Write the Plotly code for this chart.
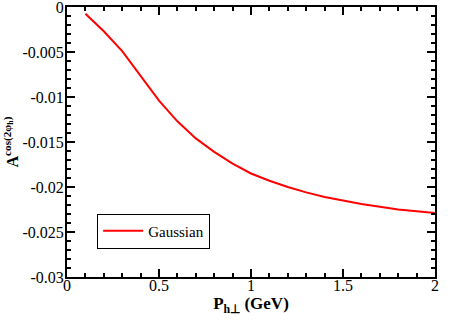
import plotly.graph_objects as go

# curve
p_perp = [0.1, 0.2, 0.3, 0.4, 0.5, 0.6, 0.7, 0.8, 0.9, 1.0,
          1.1, 1.2, 1.3, 1.4, 1.5, 1.6, 1.7, 1.8, 1.9, 2.0]
asym_gauss = [-0.00075, -0.0027, -0.0049, -0.0076, -0.0104, -0.0127, -0.0146,
              -0.0161, -0.0174, -0.0185, -0.0193, -0.0200, -0.0206, -0.0211,
              -0.0215, -0.0219, -0.0222, -0.0225, -0.0227, -0.0229]

x_ticks = [0, 0.5, 1, 1.5, 2]
x_labels = ['0', '0.5', '1', '1.5', '2']
y_ticks = [0, -0.005, -0.01, -0.015, -0.02, -0.025, -0.03]
y_labels = ['0', '-0.005', '-0.01', '-0.015', '-0.02', '-0.025', '-0.03']

font_family = 'Liberation Serif'

fig = go.Figure()

fig.add_trace(go.Scatter(
    x=p_perp,
    y=asym_gauss,
    mode='lines',
    name='Gaussian',
    line=dict(color='#ff0000', width=2)
))

axis_common = dict(
    showline=True,
    linecolor='black',
    linewidth=2,
    mirror='allticks',
    ticks='inside',
    ticklen=8,
    tickwidth=2,
    tickcolor='black',
    showgrid=False,
    zeroline=False,
    automargin=False,
    ticklabeloverflow='allow',
    tickfont=dict(family=font_family, size=16, color='black'),
)

fig.update_xaxes(
    range=[0, 2],
    tickvals=x_ticks,
    ticktext=x_labels,
    ticklabelstandoff=-7,
    minor=dict(ticks='inside', ticklen=4, tickwidth=1.5, tickcolor='black', dtick=0.1),
    title=dict(text='<b>P<sub>h⊥</sub> (GeV)</b>', font=dict(family=font_family, size=17, color='black'),
               standoff=0),
    **axis_common
)

fig.update_yaxes(
    range=[-0.03, 0],
    tickvals=y_ticks,
    ticktext=y_labels,
    ticklabelstandoff=-2,
    minor=dict(ticks='inside', ticklen=4, tickwidth=1.5, tickcolor='black', dtick=0.001),
    title=dict(text='<b>A<sup>cos(2φ<sub>h</sub>)</sup></b>', font=dict(family=font_family, size=16, color='black'),
               standoff=0),
    **axis_common
)

fig.update_layout(
    width=463,
    height=327,
    margin=dict(l=67, r=28, t=7, b=50),
    plot_bgcolor='white',
    paper_bgcolor='white',
    showlegend=True,
    font=dict(family=font_family),
    legend=dict(
        x=0.082, y=0.17, xanchor='left', yanchor='middle',
        bgcolor='white', bordercolor='black', borderwidth=1,
        font=dict(family=font_family, size=15, color='black'),
        itemwidth=40, tracegroupgap=0,
    ),
)

# drop the page's default 8px body margin so the figure sits at the window corner
fig.write_html("out.html", config={'displayModeBar': False},
               post_script="document.body.style.margin='0';")
